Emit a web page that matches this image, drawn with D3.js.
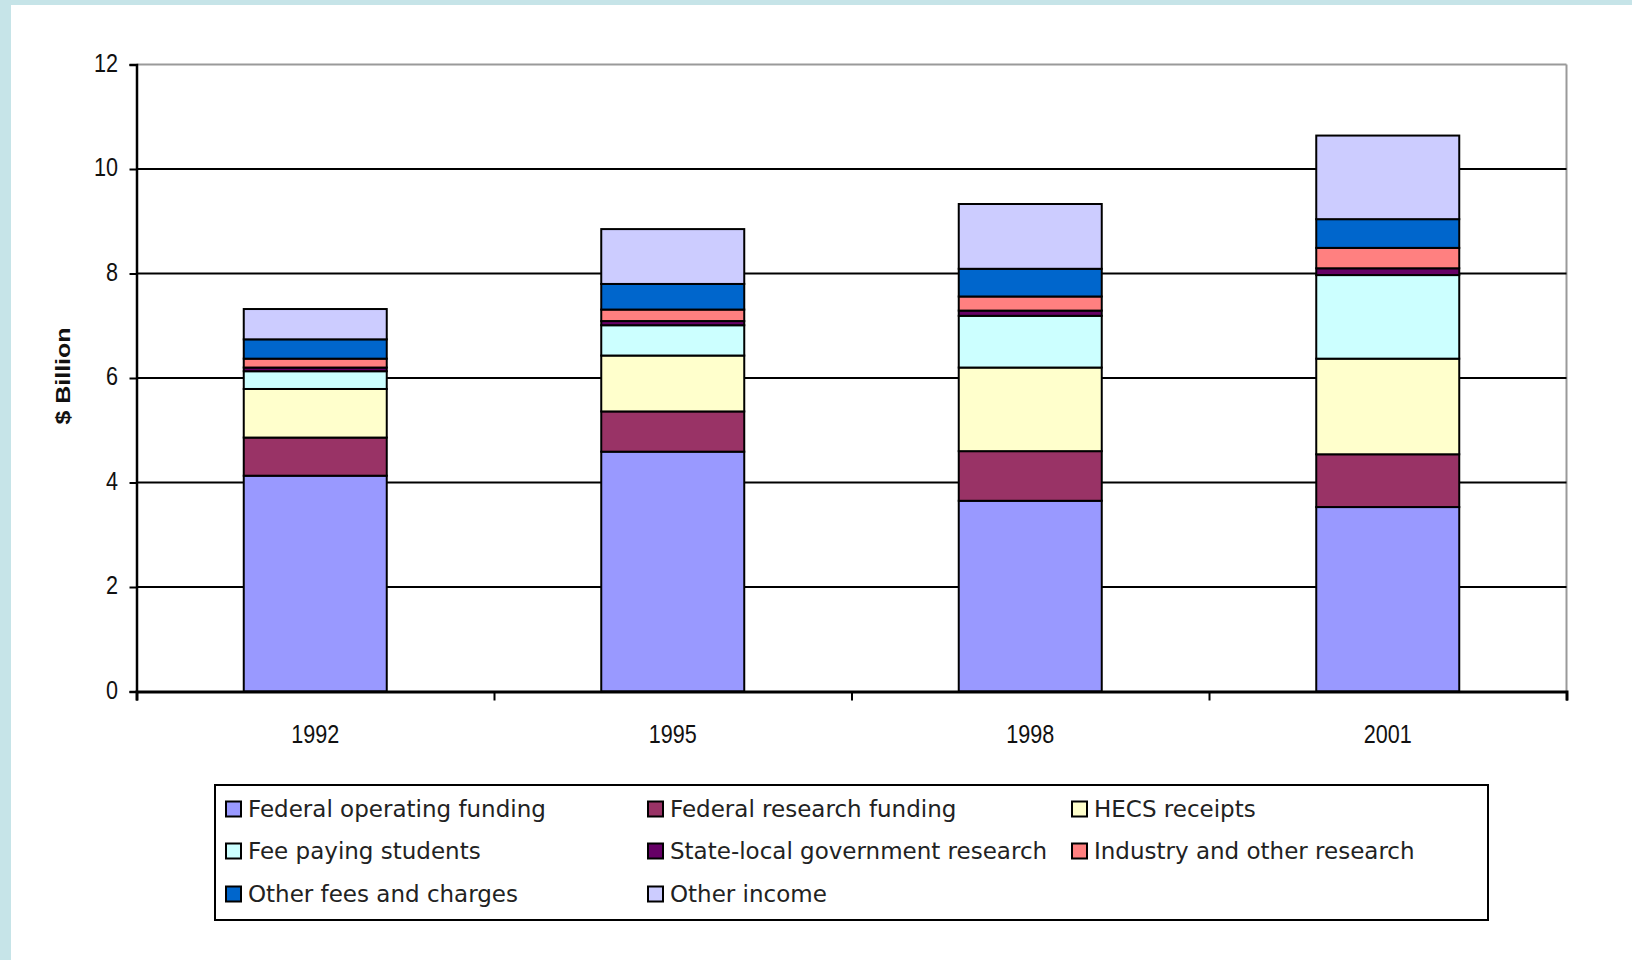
<!DOCTYPE html>
<html>
<head>
<meta charset="utf-8">
<script src="https://cdn.jsdelivr.net/npm/d3@7/dist/d3.min.js"></script>
<style>
  html, body { margin: 0; padding: 0; background: #c6e4e8; }
  svg { display: block; }
</style>
</head>
<body>
<svg id="chart" width="1632" height="960"></svg>
<script>
// University revenue by source, $ billion
const years = ["1992", "1995", "1998", "2001"];
const seriesNames = [
  "Federal operating funding",
  "Federal research funding",
  "HECS receipts",
  "Fee paying students",
  "State-local government research",
  "Industry and other research",
  "Other fees and charges",
  "Other income"
];
const federalOperating = [4.13, 4.59, 3.65, 3.53];
const federalResearch  = [0.73, 0.77, 0.95, 1.01];
const hecsReceipts     = [0.93, 1.07, 1.60, 1.83];
const feePaying        = [0.34, 0.58, 0.99, 1.60];
const stateLocal       = [0.07, 0.08, 0.10, 0.13];
const industryResearch = [0.17, 0.22, 0.27, 0.39];
const otherFees        = [0.37, 0.49, 0.53, 0.55];
const otherIncome      = [0.58, 1.05, 1.24, 1.60];
const yTicks = [0, 2, 4, 6, 8, 10, 12];
const yTitle = "$ Billion";

const colors = ["#9999ff", "#993366", "#ffffcc", "#ccffff", "#660066", "#ff8080", "#0066cc", "#ccccff"];

const valueArrays = [federalOperating, federalResearch, hecsReceipts, feePaying,
                     stateLocal, industryResearch, otherFees, otherIncome];
const rows = years.map((yr, i) => {
  const r = { year: yr };
  seriesNames.forEach((s, k) => { r[s] = valueArrays[k][i]; });
  return r;
});

const svg = d3.select("#chart");

// white card on the tinted page
svg.append("rect").attr("x", 11).attr("y", 5).attr("width", 1632 - 11).attr("height", 960 - 5).attr("fill", "#ffffff");

const plotL = 136.5, plotR = 1566.5, plotT = 64.5, plotB = 691.5;
const x = d3.scaleBand().domain(years).range([plotL, plotR]).padding(0);
const y = d3.scaleLinear().domain([0, 12]).range([plotB, plotT]);
const barW = x.bandwidth() * 0.4;

// plot frame (top and right in grey)
svg.append("line").attr("x1", plotL).attr("x2", plotR).attr("y1", y(12)).attr("y2", y(12))
  .attr("stroke", "#9a9a9a").attr("stroke-width", 2);
svg.append("line").attr("x1", plotR).attr("x2", plotR).attr("y1", plotT).attr("y2", plotB)
  .attr("stroke", "#9a9a9a").attr("stroke-width", 2);

// gridlines
svg.append("g").selectAll("line").data(yTicks.filter(t => t > 0 && t < 12)).join("line")
  .attr("x1", plotL).attr("x2", plotR)
  .attr("y1", d => y(d)).attr("y2", d => y(d))
  .attr("stroke", "#000").attr("stroke-width", 2);

// stacked bars
const stack = d3.stack().keys(seriesNames)(rows);
svg.append("g").selectAll("g").data(stack).join("g")
  .attr("fill", (d, i) => colors[i])
  .selectAll("rect").data(d => d).join("rect")
  .attr("x", d => x(d.data.year) + (x.bandwidth() - barW) / 2)
  .attr("width", barW)
  .attr("y", d => y(d[1]))
  .attr("height", d => y(d[0]) - y(d[1]))
  .attr("stroke", "#000").attr("stroke-width", 2);

// y axis
const yAxis = svg.append("g").attr("transform", `translate(${plotL},0)`)
  .call(d3.axisLeft(y).tickValues(yTicks).tickSize(7).tickFormat(""));
yAxis.select(".domain").attr("stroke", "#000").attr("stroke-width", 2.5);
yAxis.selectAll(".tick line").attr("stroke", "#000").attr("stroke-width", 2);

svg.append("g").selectAll("text").data(yTicks).join("text")
  .attr("transform", d => `translate(118,${y(d) + 7}) scale(0.83,1)`)
  .attr("text-anchor", "end")
  .attr("font-family", "Liberation Sans, Arial, sans-serif")
  .attr("font-size", 26)
  .attr("fill", "#111")
  .text(d => d);

// x axis with boundary ticks
const boundaries = d3.scaleLinear().domain([0, years.length]).range([plotL, plotR]);
const xAxis = svg.append("g").attr("transform", `translate(0,${plotB})`)
  .call(d3.axisBottom(boundaries).tickValues(d3.range(years.length + 1)).tickSize(9).tickFormat(""));
xAxis.select(".domain").attr("stroke", "#000").attr("stroke-width", 3);
xAxis.selectAll(".tick line").attr("stroke", "#000").attr("stroke-width", 2);

svg.append("g").selectAll("text").data(years).join("text")
  .attr("transform", d => `translate(${x(d) + x.bandwidth() / 2},743) scale(0.83,1)`)
  .attr("text-anchor", "middle")
  .attr("font-family", "Liberation Sans, Arial, sans-serif")
  .attr("font-size", 26)
  .attr("fill", "#111")
  .text(d => d);

// y axis title
svg.append("text")
  .attr("transform", "translate(70,376) rotate(-90) scale(1.25,1)")
  .attr("text-anchor", "middle")
  .attr("font-family", "Liberation Sans, Arial, sans-serif")
  .attr("font-weight", "bold")
  .attr("font-size", 20)
  .attr("fill", "#111")
  .text(yTitle);

// legend
const legend = svg.append("g");
legend.append("rect").attr("x", 215).attr("y", 785).attr("width", 1273).attr("height", 135)
  .attr("fill", "#fff").attr("stroke", "#000").attr("stroke-width", 2);
const colX = [226, 648, 1072];
const rowY = [809, 851, 894];
const items = legend.selectAll("g").data(seriesNames).join("g")
  .attr("transform", (d, i) => `translate(${colX[i % 3]},${rowY[Math.floor(i / 3)]})`);
items.append("rect").attr("x", 0).attr("y", -7.5).attr("width", 15).attr("height", 15)
  .attr("fill", (d, i) => colors[i]).attr("stroke", "#000").attr("stroke-width", 2);
items.append("text").attr("x", 22).attr("y", 8)
  .attr("font-family", "DejaVu Sans, Verdana, sans-serif")
  .attr("font-size", 23)
  .attr("fill", "#222")
  .text(d => d);
</script>
</body>
</html>
